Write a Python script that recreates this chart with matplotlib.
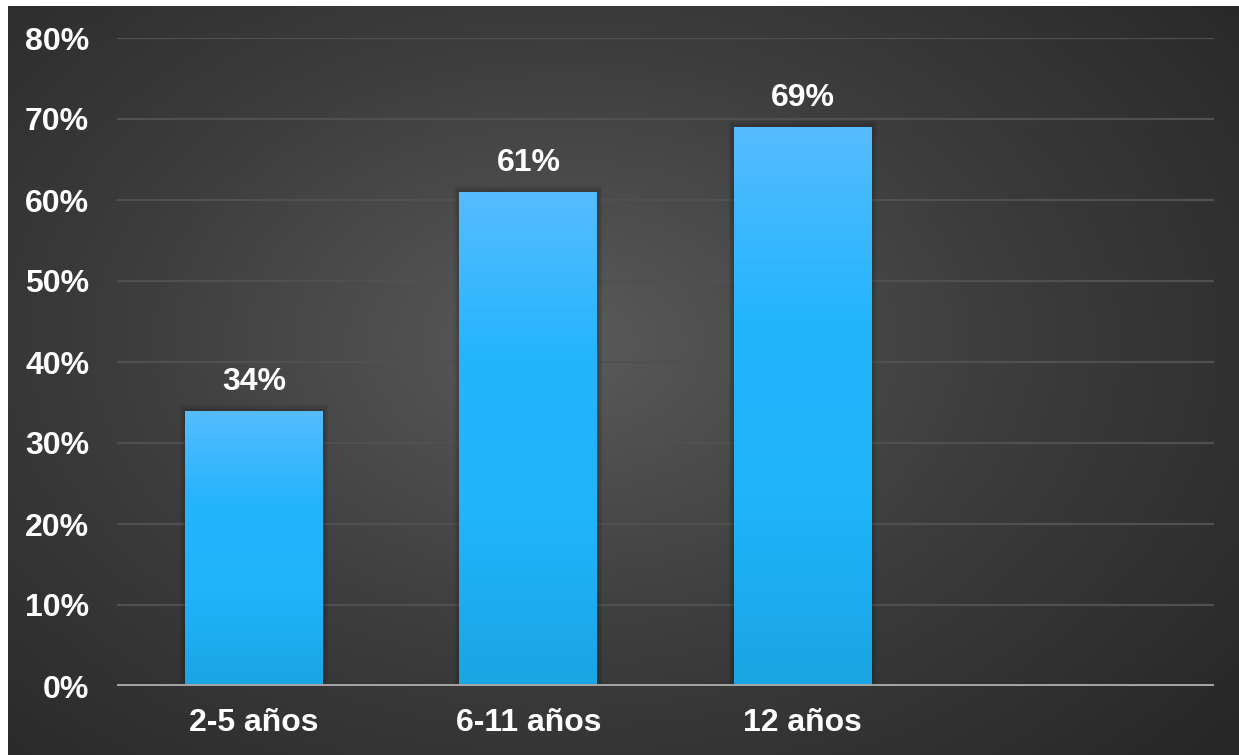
import numpy as np
import matplotlib.pyplot as plt
from matplotlib.colors import LinearSegmentedColormap

categories = ['2-5 años', '6-11 años', '12 años', '']
values = [34, 61, 69, None]
yticks = [0, 10, 20, 30, 40, 50, 60, 70, 80]

plt.rcParams['font.family'] = ['Liberation Sans', 'DejaVu Sans']
plt.rcParams['font.weight'] = 'bold'

fig = plt.figure(figsize=(12.39, 7.55), dpi=100)
fig.patch.set_facecolor('white')

# dark radial background
bg = fig.add_axes([8 / 1239, 0, 1 - 8 / 1239, 1 - 6 / 755])
bg.set_axis_off()
yy, xx = np.mgrid[0:1:300j, 0:1:500j]
r = np.sqrt(((xx - 0.45) / 0.75) ** 2 + ((yy - 0.55) / 0.85) ** 2)
r = np.clip(r, 0, 1)
bg_cmap = LinearSegmentedColormap.from_list('bg', ['#5a5a5a', '#3c3c3c', '#262626'])
bg.imshow(r, cmap=bg_cmap, aspect='auto', extent=[0, 1, 0, 1], origin='lower')

ax = fig.add_axes([117 / 1239, 69 / 755, 1097 / 1239, (686 - 38) / 755])
ax.patch.set_alpha(0)
ax.set_xlim(-0.5, 3.5)
ax.set_ylim(0, 80)

for y in yticks[1:]:
    ax.axhline(y, color='#505050', lw=1.6, zorder=1)
ax.axhline(0, color='#a6a6a6', lw=2.8, zorder=4)

bar_cmap = LinearSegmentedColormap.from_list('bar', ['#1aa5e3', '#20b4fb', '#24b5fd', '#56bcff'])
x = np.arange(len(categories))
heights = [v if v is not None else 0 for v in values]
bars = ax.bar(x, heights, width=0.503, color='none', zorder=3)
grad = np.linspace(0, 1, 256).reshape(-1, 1)
for b, v in zip(bars, values):
    if v is None:
        continue
    x0, w, h = b.get_x(), b.get_width(), b.get_height()
    # soft shadow
    for k in range(1, 4):
        ax.bar(x0 + w / 2, h + 0.25 * k, width=w + 0.012 * k, color='black', alpha=0.07, zorder=2)
    im = ax.imshow(grad, cmap=bar_cmap, aspect='auto', extent=[x0, x0 + w, 0, h],
                   origin='lower', zorder=3)
    im.set_clip_path(b)
    ax.annotate(f'{v}%', (x0 + w / 2, h), xytext=(0, 14), textcoords='offset pixels',
                ha='center', va='bottom', color='white', fontsize=23, fontweight='bold')

ax.set_xticks(x)
ax.set_xticklabels(categories)
ax.set_yticks(yticks)
ax.set_yticklabels([f'{t}%' for t in yticks])
ax.tick_params(axis='both', length=0, colors='white', labelsize=23)
ax.tick_params(axis='y', pad=20)
ax.tick_params(axis='x', pad=16)
for s in ax.spines.values():
    s.set_visible(False)

fig.savefig('out.png', dpi=100)
